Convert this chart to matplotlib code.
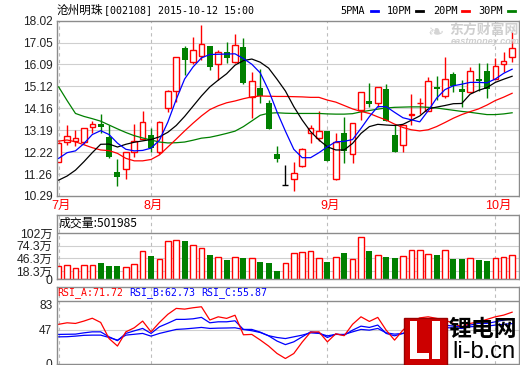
import matplotlib

matplotlib.use("Agg")
import matplotlib.pyplot as plt
from matplotlib.lines import Line2D
from matplotlib.patches import Rectangle
import numpy as np

plt.rcParams["font.family"] = ["Liberation Sans", "Noto Sans CJK SC"]

# daily candles, 2015-07 .. 2015-10-12 (55 trading days)
opens = [11.80, 12.68, 12.73, 12.65, 13.34, 13.46, 12.90, 11.36, 11.46, 12.21,
         12.82, 13.00, 12.24, 14.16, 14.94, 16.83, 16.21, 16.45, 16.89, 16.09,
         16.62, 16.21, 16.86, 14.64, 15.05, 14.40, 12.14, 10.77, 11.06, 11.62,
         13.05, 12.83, 13.15, 11.06, 13.05, 12.16, 14.08, 14.48, 14.37, 15.00,
         13.00, 12.53, 13.86, 14.37, 14.05, 15.11, 14.69, 15.65, 15.00, 14.89,
         15.45, 15.80, 15.45, 16.09, 16.43]
highs = [12.65, 13.42, 13.20, 13.30, 13.61, 13.90, 13.42, 11.91, 12.25, 13.46,
         14.02, 13.27, 13.60, 14.95, 16.43, 16.92, 17.29, 17.83, 16.90, 16.73,
         17.08, 17.43, 17.24, 15.74, 15.87, 14.52, 12.49, 11.65, 11.80, 12.40,
         13.42, 14.05, 13.16, 13.05, 13.78, 13.53, 14.86, 15.26, 15.09, 15.21,
         13.42, 13.42, 14.79, 14.59, 15.52, 15.58, 16.40, 15.74, 15.40, 15.99,
         16.17, 16.14, 16.36, 16.65, 17.54]
lows = [11.78, 12.52, 12.51, 12.60, 13.08, 13.08, 11.95, 10.74, 11.05, 12.02,
        12.78, 12.24, 12.14, 14.00, 14.45, 15.62, 16.09, 16.29, 15.85, 15.40,
        16.17, 16.14, 15.23, 13.71, 14.40, 13.25, 11.78, 10.77, 10.52, 11.58,
        12.61, 12.71, 11.84, 11.00, 11.73, 11.73, 13.64, 14.20, 14.20, 13.60,
        12.24, 12.24, 13.42, 13.89, 14.05, 14.52, 14.62, 14.89, 14.22, 14.89,
        14.92, 14.59, 15.45, 15.77, 16.21]
closes = [12.61, 12.95, 12.83, 13.27, 13.46, 13.32, 11.99, 11.14, 12.21, 12.71,
          13.57, 12.42, 13.55, 14.92, 16.41, 16.27, 16.73, 16.98, 15.98, 16.62,
          16.39, 16.93, 15.27, 15.34, 14.71, 13.26, 11.93, 10.77, 11.29, 12.38,
          13.27, 13.15, 11.84, 12.68, 12.28, 13.49, 14.86, 14.36, 15.09, 13.60,
          12.24, 13.42, 13.92, 14.41, 15.36, 15.00, 15.43, 15.15, 14.86, 15.80,
          15.36, 15.00, 16.02, 16.24, 16.80]

ma5 = [11.95, 12.20, 12.28, 12.60, 13.00, 13.17, 13.00, 12.62, 12.35, 12.28,
       12.30, 12.40, 12.75, 13.55, 14.55, 15.45, 15.98, 16.38, 16.53, 16.54,
       16.55, 16.56, 16.35, 16.10, 15.72, 14.95, 14.00, 13.15, 12.35, 11.98,
       11.98, 12.20, 12.46, 12.68, 12.70, 12.78, 13.27, 13.79, 14.23, 14.23,
       13.98, 13.74, 13.65, 13.56, 14.05, 14.60, 14.98, 15.15, 15.22, 15.30,
       15.30, 15.28, 15.45, 15.70, 15.88]
ma10 = [10.99, 11.17, 11.43, 11.80, 12.20, 12.57, 12.58, 12.45, 12.57, 12.66,
        12.72, 12.78, 12.90, 13.10, 13.40, 13.80, 14.25, 14.70, 15.10, 15.40,
        15.68, 16.06, 16.26, 16.33, 16.19, 15.93, 15.44, 14.92, 14.23, 13.64,
        13.13, 12.76, 12.46, 12.32, 12.32, 12.61, 13.05, 13.35, 13.45, 13.42,
        13.40, 13.45, 13.63, 13.82, 14.13, 14.21, 14.28, 14.36, 14.37, 14.78,
        14.95, 15.07, 15.30, 15.44, 15.57]
ma20 = [12.71, 12.76, 12.68, 12.55, 12.42, 12.32, 12.29, 12.17, 11.95, 11.84,
        11.84, 11.90, 12.10, 12.45, 12.80, 13.16, 13.50, 13.82, 14.10, 14.27,
        14.40, 14.48, 14.58, 14.66, 14.70, 14.69, 14.68, 14.68, 14.67, 14.66,
        14.64, 14.64, 14.52, 14.43, 14.28, 14.13, 14.02, 13.93, 13.78, 13.64,
        13.46, 13.31, 13.21, 13.16, 13.21, 13.35, 13.53, 13.72, 13.88, 14.01,
        14.13, 14.30, 14.50, 14.65, 14.82]
ma30 = [15.10, 14.50, 13.93, 13.80, 13.70, 13.59, 13.42, 13.25, 13.09, 12.95,
        12.85, 12.76, 12.67, 12.63, 12.64, 12.67, 12.75, 12.84, 12.88, 12.96,
        13.05, 13.15, 13.35, 13.60, 13.85, 13.94, 13.96, 13.94, 13.93, 13.93,
        13.93, 13.93, 13.91, 13.90, 13.90, 13.92, 14.00, 14.06, 14.12, 14.17,
        14.20, 14.21, 14.22, 14.22, 14.20, 14.17, 14.12, 14.07, 14.02, 13.98,
        13.93, 13.88, 13.88, 13.91, 13.96]

# volume in 万 shares
volume = [29.5, 31.7, 25.0, 31.7, 31.7, 36.1, 29.5, 29.5, 26.6, 33.2,
          62.7, 51.6, 45.0, 84.9, 87.1, 84.9, 75.4, 68.7, 53.9, 48.8,
          43.5, 48.8, 47.7, 47.7, 38.4, 37.0, 18.8, 35.5, 57.6, 59.8,
          62.1, 46.5, 38.4, 48.8, 58.3, 44.3, 93.1, 62.7, 53.2, 49.4,
          47.2, 51.0, 65.0, 65.0, 55.4, 53.9, 65.0, 45.7, 45.7, 46.5,
          43.5, 41.2, 47.7, 49.4, 53.9]

rsi_a = [55.0, 57.1, 56.2, 59.5, 63.5, 57.6, 35.0, 24.5, 44.4, 50.1,
         59.5, 44.4, 57.6, 69.0, 77.3, 76.3, 78.2, 79.6, 61.0, 65.5,
         63.3, 67.7, 40.3, 40.8, 33.0, 24.5, 14.1, 7.0, 14.0, 30.0,
         44.0, 44.4, 30.4, 41.7, 39.0, 55.0, 65.5, 59.0, 64.7, 46.8,
         32.8, 46.8, 58.0, 64.0, 65.5, 63.3, 60.9, 56.2, 51.5, 56.2,
         58.5, 61.9, 65.5, 67.9, 72.0]
rsi_b = [40.8, 41.0, 41.2, 43.0, 44.4, 44.4, 37.4, 32.0, 42.2, 45.8,
         49.2, 42.2, 51.5, 56.5, 61.9, 61.9, 62.7, 64.7, 57.1, 58.5,
         58.5, 59.9, 47.8, 47.8, 44.0, 38.8, 31.5, 26.5, 30.4, 37.4,
         44.4, 43.0, 36.5, 41.2, 39.8, 46.8, 52.4, 50.6, 53.9, 42.2,
         38.8, 42.2, 47.0, 50.0, 51.5, 52.4, 53.9, 52.4, 51.5, 53.9,
         56.2, 56.2, 58.5, 60.9, 63.0]
rsi_c = [37.4, 37.6, 38.4, 39.5, 39.8, 39.8, 36.5, 32.8, 39.8, 41.0,
         42.2, 38.4, 42.2, 45.0, 47.8, 48.5, 49.5, 50.6, 49.2, 49.6,
         49.8, 50.1, 47.8, 46.0, 43.5, 39.0, 36.5, 35.0, 37.4, 39.8,
         43.0, 42.2, 38.8, 40.8, 40.8, 44.4, 47.8, 46.8, 49.2, 43.0,
         41.2, 42.2, 44.0, 46.0, 49.2, 49.6, 50.6, 49.6, 49.2, 51.5,
         52.4, 52.4, 53.9, 55.0, 56.0]

month_idx = [0, 11, 32, 52]
month_labels = ["7月", "8月", "9月", "10月"]
price_ticks = [10.29, 11.26, 12.22, 13.19, 14.16, 15.12, 16.09, 17.05, 18.02]
vol_ticks = [0, 18.3, 46.3, 74.3, 102]
vol_labels = ["0", "18.3万", "46.3万", "74.3万", "102万"]
rsi_ticks = [0, 47, 83]

RED = "#ff0000"
GREEN = "#008000"
BLUE = "#0000ff"
FRAME = "#8c8c8c"
GRID = "#cfcfcf"
W, H = 520, 365


def box(left, top, right, bottom):
    return [left / W, 1 - bottom / H, (right - left) / W, (bottom - top) / H]


def frame(ax):
    for s in ax.spines.values():
        s.set_color(FRAME)
        s.set_linewidth(1.0)
    ax.set_xlim(-0.26, 54.76)
    ax.tick_params(axis="y", length=0, pad=3, labelsize=8.6, labelcolor="#222222")
    for m in month_idx:
        ax.axvline(m, color="#bdbdbd", lw=0.8, ls=(0, (3, 3)), zorder=0.5)


fig = plt.figure(figsize=(5.2, 3.65), dpi=100)
ax = fig.add_axes(box(56.5, 20.7, 518.5, 196))
axv = fig.add_axes(box(56.5, 215, 518.5, 279.3))
axr = fig.add_axes(box(56.5, 287.3, 518.5, 363.5))

x = np.arange(len(closes))
o = np.array(opens)
hi = np.array(highs)
lo = np.array(lows)
c = np.array(closes)
up = c > o
dn = c < o
flat = c == o

# price panel
frame(ax)
ax.set_ylim(10.29, 18.02)
ax.set_yticks(price_ticks, [f"{t:.2f}" for t in price_ticks])
for t in price_ticks[1:-1]:
    ax.axhline(t, color=GRID, lw=0.8, zorder=0.4)
ax.vlines(x[up], lo[up], hi[up], color=RED, lw=1.0, zorder=2)
ax.bar(x[up], (c - o)[up], bottom=o[up], width=0.66, facecolor="white",
       edgecolor=RED, lw=1.0, zorder=2.5)
ax.vlines(x[dn], lo[dn], hi[dn], color=GREEN, lw=1.0, zorder=2)
ax.bar(x[dn], (o - c)[dn], bottom=c[dn], width=0.72, color=GREEN, lw=0, zorder=2.5)
ax.vlines(x[flat], lo[flat], hi[flat], color="black", lw=1.0, zorder=2)
ax.hlines(c[flat], x[flat] - 0.36, x[flat] + 0.36, color="black", lw=1.0, zorder=2)
ax.plot(x, ma30, color=GREEN, lw=0.9, zorder=3)
ax.plot(x, ma20, color=RED, lw=0.9, zorder=3)
ax.plot(x, ma10, color="black", lw=0.9, zorder=3)
ax.plot(x, ma5, color=BLUE, lw=0.9, zorder=3)
ax.set_xticks(np.array(month_idx) + 0.3, month_labels)
ax.tick_params(axis="x", length=0, pad=3, labelsize=9, labelcolor=RED)

# volume panel
frame(axv)
axv.set_ylim(0, 142.6)
axv.set_yticks(vol_ticks, vol_labels)
axv.tick_params(axis="y", labelsize=8.8, pad=3)
axv.set_xticks([])
for t in vol_ticks[1:-1]:
    axv.axhline(t, color=GRID, lw=0.8, zorder=0.4)
axv.axhline(102, color=FRAME, lw=1.0, zorder=0.6)
vol = np.array(volume)
vup = c >= o
axv.bar(x[vup], vol[vup], width=0.66, facecolor="white", edgecolor=RED, lw=1.0, zorder=2)
axv.bar(x[~vup], vol[~vup], width=0.72, color=GREEN, lw=0, zorder=2)
axv.text(0.004, 0.87, "成交量:501985", transform=axv.transAxes, va="center",
         ha="left", fontsize=8.6, family=["Noto Sans CJK SC"], color="black")

# RSI panel
frame(axr)
axr.set_ylim(0, 106.9)
axr.set_yticks(rsi_ticks, [str(t) for t in rsi_ticks])
axr.set_xticks([])
axr.axhline(47, color=GRID, lw=0.8, zorder=0.4)
axr.axhline(88, color=FRAME, lw=1.0, zorder=0.6)
axr.plot(x, rsi_c, color=BLUE, lw=0.9, zorder=2)
axr.plot(x, rsi_b, color=BLUE, lw=0.9, zorder=2)
axr.plot(x, rsi_a, color=RED, lw=0.9, zorder=2)
mono = ["DejaVu Sans Mono"]
for xx, s, col in [(57, "RSI_A:71.72", RED), (129, "RSI_B:62.73", BLUE),
                   (201, "RSI_C:55.87", BLUE)]:
    fig.text(xx / W, 1 - 292.5 / H, s, color=col, fontsize=7.1, family=mono,
             va="center", ha="left")

# header
fig.text(57 / W, 1 - 10.5 / H, "沧州明珠", fontsize=8.4, family=["Noto Sans CJK SC"],
         va="center", ha="left")
fig.text(104 / W, 1 - 10.5 / H, "[002108] 2015-10-12 15:00", fontsize=7.2,
         family=mono, va="center", ha="left")
for xx, s, col, x0, x1 in [(340, "5PMA", BLUE, 371, 378), (387, "10PM", "black", 416, 423),
                           (433, "20PM", RED, 462, 469), (478, "30PM", GREEN, 508, 515)]:
    fig.text(xx / W, 1 - 10.5 / H, s, fontsize=7.4, family=mono, va="center", ha="left")
    fig.add_artist(Line2D([x0 / W, x1 / W], [1 - 10.7 / H, 1 - 10.7 / H], color=col, lw=2))

# watermarks
fig.text(484 / W, 1 - 30 / H, "东方财富网", fontsize=10, weight="bold",
         family=["Noto Sans CJK SC"], color="#cfcfcf", ha="center", va="center")
fig.text(485 / W, 1 - 41.5 / H, "eastmoney.com", fontsize=6.6, weight="bold",
         style="italic", color="#cfcfcf", ha="center", va="center")
fig.text(436 / W, 1 - 33 / H, "❧", fontsize=14, color="#d5d5d5", ha="center",
         va="center", family=["DejaVu Sans"])

fig.add_artist(Rectangle((404 / W, 0), 43 / W, 47.5 / H, transform=fig.transFigure,
                         facecolor="#cc0000", edgecolor="#990000", lw=1, zorder=5))
for (l, t, r, b) in [(410, 321, 417, 359), (410, 352.5, 429, 359), (432, 321, 439.5, 359)]:
    fig.add_artist(Rectangle((l / W, 1 - b / H), (r - l) / W, (b - t) / H,
                             transform=fig.transFigure, facecolor="white", lw=0, zorder=6))
fig.text(483 / W, 1 - 329 / H, "锂电网", fontsize=16.5, weight="bold",
         family=["Noto Sans CJK SC"], color="black", ha="center", va="center", zorder=6)
fig.text(484 / W, 1 - 352.5 / H, "li-b.cn", fontsize=17, color="black",
         ha="center", va="center", zorder=6)

fig.savefig("out.png", dpi=100)
